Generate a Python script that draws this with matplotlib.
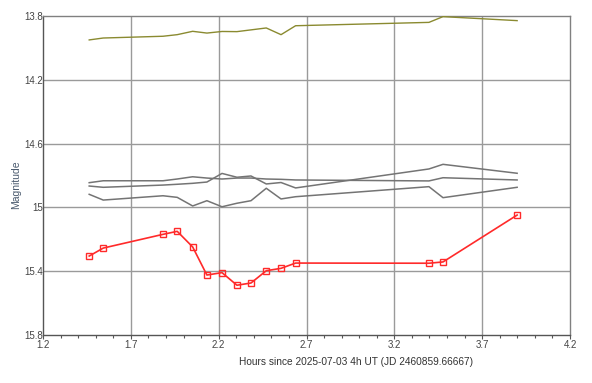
import matplotlib
matplotlib.use("Agg")
import matplotlib.pyplot as plt
from matplotlib.ticker import MultipleLocator

plt.rcParams['font.family'] = ['Liberation Sans', 'DejaVu Sans']

hours = [1.463, 1.543, 1.883, 1.964, 2.052, 2.133, 2.219, 2.304, 2.384,
         2.471, 2.555, 2.638, 3.397, 3.477, 3.899]

target_mag = [15.305, 15.255, 15.169, 15.150, 15.248, 15.424, 15.409, 15.488,
              15.474, 15.397, 15.382, 15.349, 15.350, 15.342, 15.048]

check_mag = [13.950, 13.938, 13.927, 13.917, 13.896, 13.907, 13.897, 13.898,
             13.887, 13.875, 13.917, 13.861, 13.840, 13.804, 13.829]

comp1_mag = [14.845, 14.833, 14.833, 14.822, 14.808, 14.816, 14.822, 14.816,
             14.816, 14.822, 14.824, 14.828, 14.834, 14.814, 14.828]

comp2_mag = [14.866, 14.874, 14.860, 14.855, 14.849, 14.841, 14.787, 14.811,
             14.803, 14.853, 14.844, 14.878, 14.759, 14.730, 14.786]

comp3_mag = [14.918, 14.954, 14.927, 14.937, 14.991, 14.958, 14.996, 14.974,
             14.958, 14.880, 14.947, 14.933, 14.870, 14.939, 14.874]

x_ticks = [1.2, 1.7, 2.2, 2.7, 3.2, 3.7, 4.2]
x_tick_labels = ["1.2", "1.7", "2.2", "2.7", "3.2", "3.7", "4.2"]
y_ticks = [13.8, 14.2, 14.6, 15.0, 15.4, 15.8]
y_tick_labels = ["13.8", "14.2", "14.6", "15", "15.4", "15.8"]

fig = plt.figure(figsize=(5.92, 3.83), dpi=100)
ax = fig.add_axes([43/592, 1-335/383, 527/592, 319/383])

grid_c = '#9a9a9a'
for xv in x_ticks[1:-1]:
    ax.axvline(xv, color=grid_c, lw=1.0, zorder=1)
for yv in y_ticks[1:-1]:
    ax.axhline(yv, color=grid_c, lw=1.0, zorder=1)

ax.plot(hours, check_mag, color='#8a8a30', lw=1.0, zorder=3)
for cm in (comp1_mag, comp2_mag, comp3_mag):
    ax.plot(hours, cm, color='#747474', lw=1.1, zorder=3)
ax.plot(hours, target_mag, color='#ff2a2a', lw=1.2, marker='s', markersize=5,
        markerfacecolor='none', markeredgecolor='#ff2a2a', markeredgewidth=1.0, zorder=4)

ax.set_xlim(1.2, 4.2)
ax.set_ylim(15.8, 13.8)
ax.set_xticks(x_ticks)
ax.set_xticklabels(x_tick_labels)
ax.xaxis.set_minor_locator(MultipleLocator(0.1))
ax.set_yticks(y_ticks)
ax.set_yticklabels(y_tick_labels)

ax.tick_params(axis='x', which='major', direction='out', length=3, width=0.8,
               colors='#555555', labelsize=7, labelcolor='#444444', pad=0.5)
ax.tick_params(axis='x', which='minor', direction='out', length=2.5, width=0.8,
               colors='#555555')
ax.tick_params(axis='y', which='major', length=0, labelsize=7,
               labelcolor='#444444', pad=0)

for s in ('left', 'bottom'):
    ax.spines[s].set_color('#555555')
    ax.spines[s].set_linewidth(1.0)
for s in ('top', 'right'):
    ax.spines[s].set_color('#808080')
    ax.spines[s].set_linewidth(1.0)

fig.text(356/592, 1-362/383, "Hours since 2025-07-03 4h UT (JD 2460859.66667)",
         ha='center', va='center', fontsize=7.3, color='#333333')
fig.text(16/592, 1-185/383, "Magnitude", rotation=90, ha='center', va='center',
         fontsize=7.5, color='#4a5a6e')

fig.savefig('out.png', dpi=100)
